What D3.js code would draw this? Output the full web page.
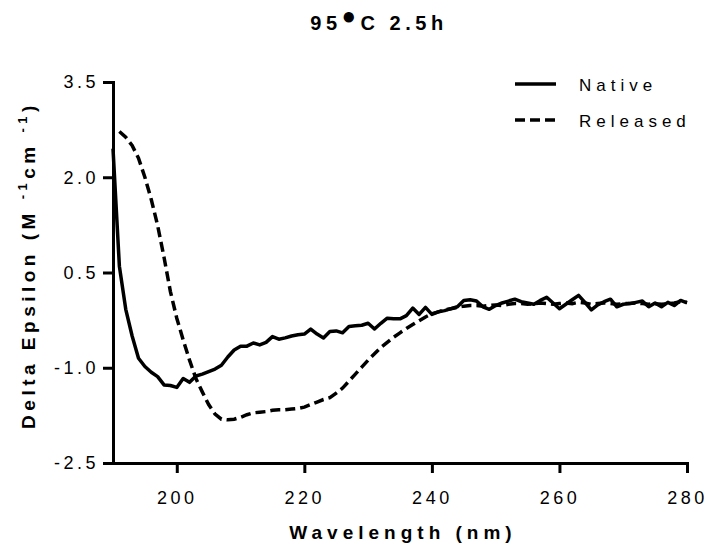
<!DOCTYPE html>
<html>
<head>
<meta charset="utf-8">
<script src="https://cdn.jsdelivr.net/npm/d3@7"></script>
<style>
body { margin: 0; background: white; }
svg text { font-family: "Liberation Sans", Arial, sans-serif; fill: black; }
</style>
</head>
<body>
<svg id="cdChart" width="709" height="550"></svg>
<script>
const WAVELENGTHS = [190, 191, 192, 193, 194, 195, 196, 197, 198, 199,
    200, 201, 202, 203, 204, 205, 206, 207, 208, 209,
    210, 211, 212, 213, 214, 215, 216, 217, 218, 219,
    220, 221, 222, 223, 224, 225, 226, 227, 228, 229,
    230, 231, 232, 233, 234, 235, 236, 237, 238, 239,
    240, 241, 242, 243, 244, 245, 246, 247, 248, 249,
    250, 251, 252, 253, 254, 255, 256, 257, 258, 259,
    260, 261, 262, 263, 264, 265, 266, 267, 268, 269,
    270, 271, 272, 273, 274, 275, 276, 277, 278, 279, 280]

const NATIVE = [2.45, 0.60, -0.08, -0.50, -0.85, -0.98, -1.07, -1.14, -1.27, -1.28,
    -1.31, -1.17, -1.23, -1.13, -1.10, -1.06, -1.02, -0.96, -0.83, -0.72,
    -0.66, -0.66, -0.61, -0.64, -0.60, -0.51, -0.55, -0.53, -0.50, -0.48,
    -0.47, -0.39, -0.47, -0.53, -0.43, -0.42, -0.45, -0.35, -0.34, -0.33,
    -0.30, -0.39, -0.30, -0.22, -0.23, -0.23, -0.18, -0.06, -0.16, -0.05,
    -0.16, -0.12, -0.10, -0.07, -0.04, 0.06, 0.07, 0.05, -0.04, -0.08,
    -0.02, 0.02, 0.05, 0.08, 0.04, 0.02, 0.00, 0.06, 0.11, 0.02,
    -0.07, 0.00, 0.07, 0.14, 0.03, -0.09, -0.01, 0.04, 0.08, -0.04,
    0.00, 0.01, 0.03, 0.05, -0.04, 0.02, -0.04, 0.03, -0.02, 0.06, 0.02]

const RELEASED = [null, 2.72, 2.63, 2.50, 2.30, 2.00, 1.65, 1.24, 0.74, 0.20,
    -0.22, -0.56, -0.88, -1.17, -1.38, -1.58, -1.73, -1.81, -1.82, -1.81,
    -1.78, -1.74, -1.71, -1.70, -1.69, -1.67, -1.66, -1.66, -1.65, -1.64,
    -1.62, -1.58, -1.54, -1.50, -1.47, -1.40, -1.32, -1.21, -1.10, -0.99,
    -0.88, -0.78, -0.68, -0.60, -0.52, -0.45, -0.38, -0.32, -0.26, -0.20,
    -0.15, -0.12, -0.09, -0.07, -0.05, -0.03, -0.02, -0.02, -0.03, -0.02,
    -0.01, -0.02, 0.00, 0.01, 0.01, 0.00, 0.01, 0.02, 0.01, 0.00,
    0.01, 0.02, 0.01, 0.03, 0.02, 0.00, 0.01, 0.02, 0.01, 0.00,
    0.01, 0.01, 0.02, 0.01, 0.00, 0.01, 0.00, 0.01, 0.02, 0.04, 0.03]

const X_TICKS = [200, 220, 240, 260, 280]
const Y_TICKS = [-2.5, -1.0, 0.5, 2.0, 3.5]
const SERIES_NAMES = ["Native", "Released"]

const LINE_WIDTH = 3.5
const DASHES = "10,5"

const svg = d3.select("#cdChart")

const X_SCALE = d3.scaleLinear().domain([190, 280]).range([113, 687])
const Y_SCALE = d3.scaleLinear().domain([-2.5, 3.5]).range([463, 82])

// Axes
const xAxis = svg.append("g")
    .attr("transform", `translate(0, ${Y_SCALE(-2.5)})`)
    .call(d3.axisBottom(X_SCALE).tickValues(X_TICKS).tickSizeInner(10).tickSizeOuter(0).tickPadding(18).tickFormat(d => d.toString()))
const yAxis = svg.append("g")
    .attr("transform", `translate(${X_SCALE(190)}, 0)`)
    .call(d3.axisLeft(Y_SCALE).tickValues(Y_TICKS).tickSizeInner(10).tickSizeOuter(0).tickPadding(4).tickFormat(d => d.toFixed(1)))

for (const axis of [xAxis, yAxis]) {
    axis.select(".domain").style("stroke-width", 3).style("stroke-linecap", "square")
    axis.selectAll(".tick line").style("stroke-width", 3)
    axis.selectAll(".tick text")
        .style("font-size", "18px")
        .style("letter-spacing", "3.5px")
        .style("font-family", '"Liberation Sans", Arial, sans-serif')
        .attr("fill", "black")
}

// Curves
const line = d3.line()
    .defined(d => d[1] !== null)
    .x(d => X_SCALE(d[0]))
    .y(d => Y_SCALE(d[1]))

svg.append("path")
    .datum(WAVELENGTHS.map((w, i) => [w, NATIVE[i]]))
    .attr("d", line)
    .attr("fill", "none")
    .attr("stroke", "black")
    .attr("stroke-width", LINE_WIDTH)
    .attr("stroke-linejoin", "round")

svg.append("path")
    .datum(WAVELENGTHS.map((w, i) => [w, RELEASED[i]]))
    .attr("d", line)
    .attr("fill", "none")
    .attr("stroke", "black")
    .attr("stroke-width", LINE_WIDTH)
    .attr("stroke-dasharray", DASHES)

// Legend
const legend = svg.append("g")
SERIES_NAMES.forEach((name, i) => {
    const y = 84 + i * 36
    legend.append("line")
        .attr("x1", 515).attr("x2", 556)
        .attr("y1", y).attr("y2", y)
        .attr("stroke", "black")
        .attr("stroke-width", LINE_WIDTH)
        .attr("stroke-dasharray", i === 1 ? DASHES : null)
    legend.append("text")
        .attr("x", 579)
        .attr("y", y + 7)
        .style("font-size", "17px")
        .style("letter-spacing", "5px")
        .text(name)
})

// Title and axis names
const title = svg.append("text")
    .attr("x", 379)
    .attr("y", 30)
    .attr("text-anchor", "middle")
    .style("font-size", "20px")
    .style("font-weight", "bold")
    .style("letter-spacing", "4.5px")
title.append("tspan").text("95")
title.append("tspan").style("font-size", "24px").attr("dy", -6).text("●")
title.append("tspan").attr("dy", 6).text("C 2.5h")

svg.append("text")
    .attr("x", 403)
    .attr("y", 539)
    .attr("text-anchor", "middle")
    .style("font-size", "19px")
    .style("font-weight", "bold")
    .style("letter-spacing", "5px")
    .text("Wavelength (nm)")

const yLabel = svg.append("text")
    .attr("transform", "translate(35, 265) rotate(-90)")
    .attr("text-anchor", "middle")
    .style("font-size", "19px")
    .style("font-weight", "bold")
    .style("letter-spacing", "4.5px")
yLabel.append("tspan").text("Delta Epsilon (M ")
yLabel.append("tspan").style("font-size", "13px").attr("dy", -8).text("-1")
yLabel.append("tspan").attr("dy", 8).text("cm ")
yLabel.append("tspan").style("font-size", "13px").attr("dy", -8).text("-1")
yLabel.append("tspan").attr("dy", 8).text(")")
</script>
</body>
</html>
